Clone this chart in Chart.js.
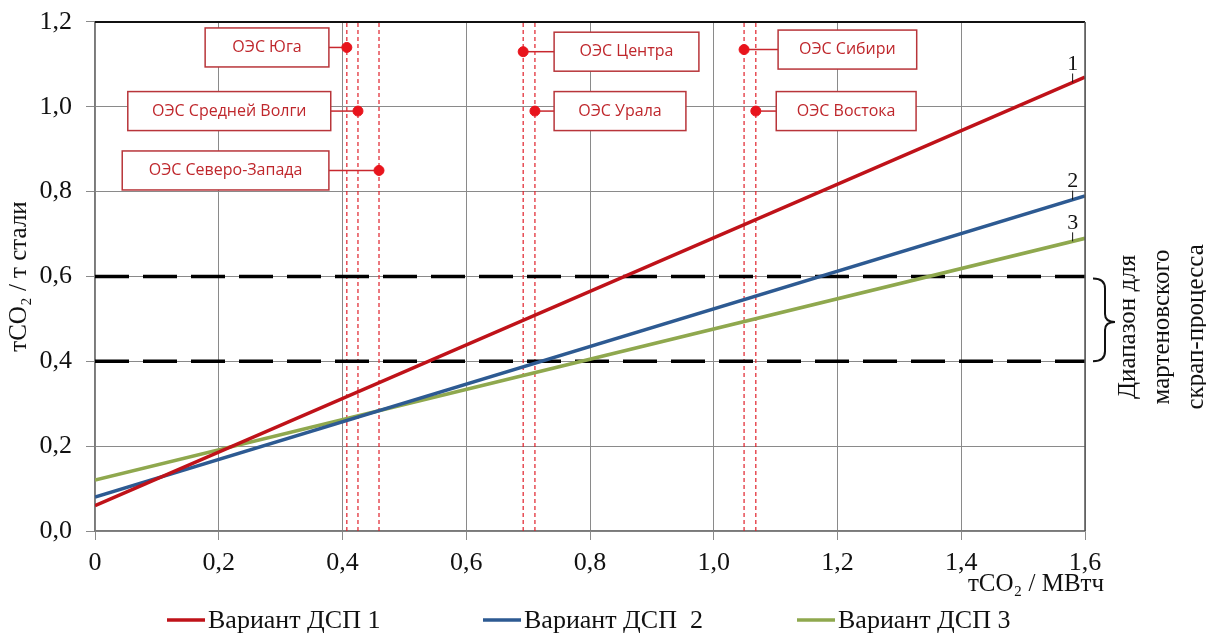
<!DOCTYPE html>
<html>
<head>
<meta charset="utf-8">
<script src="https://cdn.jsdelivr.net/npm/chart.js@4.4.1/dist/chart.umd.min.js"></script>
<style>
  html, body { margin: 0; padding: 0; background: #fff; }
  #wrap { width: 1206px; height: 635px; }
</style>
</head>
<body>
<div id="wrap"><canvas id="graphique" width="1206" height="635"></canvas></div>
<script>
// --- données ---
const seriesNames = ["Вариант ДСП 1", "Вариант ДСП  2", "Вариант ДСП 3"];
const seriesTags = ["1", "2", "3"];
const seriesX = [0, 1.6];
const seriesY = [
  [0.06, 1.07],
  [0.08, 0.79],
  [0.12, 0.69],
];
const rangeLimits = [0.4, 0.6];
const regionNames = ["ОЭС Юга", "ОЭС Средней Волги", "ОЭС Северо-Запада", "ОЭС Центра", "ОЭС Урала", "ОЭС Сибири", "ОЭС Востока"];
const regionX = [0.407, 0.425, 0.459, 0.692, 0.711, 1.049, 1.068];
const regionY = [1.14, 0.99, 0.85, 1.13, 0.99, 1.135, 0.99];
const xTickLabels = ["0", "0,2", "0,4", "0,6", "0,8", "1,0", "1,2", "1,4", "1,6"];
const yTickLabels = ["0,0", "0,2", "0,4", "0,6", "0,8", "1,0", "1,2"];

// --- mise en page des étiquettes (unités de l'axe x) ---
const boxSpans = [[0.178, 0.378], [0.053, 0.381], [0.044, 0.378], [0.742, 0.976], [0.742, 0.955], [1.104, 1.328], [1.101, 1.327]];
const lineColors = ["#bf1219", "#2d5a92", "#8fa84e"];
const legendX = [167, 483, 797];

const serif = "'Liberation Serif', 'Times New Roman', serif";
Chart.defaults.font.family = serif;
Chart.defaults.color = "#111";

const datasets = [];
seriesNames.forEach((nom, i) => {
  datasets.push({
    label: nom,
    data: seriesX.map((x, k) => ({ x: x, y: seriesY[i][k] })),
    showLine: true,
    borderColor: lineColors[i],
    borderWidth: 3.5,
    pointRadius: 0,
    order: 1,
  });
});
rangeLimits.forEach((lim) => {
  datasets.push({
    label: "",
    data: seriesX.map((x) => ({ x: x, y: lim })),
    showLine: true,
    borderColor: "#000",
    borderWidth: 3.5,
    borderDash: [34, 14],
    pointRadius: 0,
    order: 2,
  });
});
regionX.forEach((rx) => {
  datasets.push({
    label: "",
    data: [{ x: rx, y: 0 }, { x: rx, y: 1.2 }],
    showLine: true,
    borderColor: "#e0202a",
    borderWidth: 1.2,
    borderDash: [4, 3],
    pointRadius: 0,
    order: 3,
  });
});
datasets.push({
  label: "",
  data: regionX.map((x, i) => ({ x: x, y: regionY[i] })),
  showLine: false,
  backgroundColor: "#e8141c",
  borderColor: "#e8141c",
  pointRadius: 5,
  order: 0,
});

const decorations = {
  id: "decorations",
  beforeDatasetsDraw(chart) {
    const { ctx } = chart;
    const xs = chart.scales.x, ys = chart.scales.y;
    ctx.save();
    ctx.font = "16px 'Open Sans', 'Noto Sans', sans-serif";
    ctx.textBaseline = "middle";
    ctx.textAlign = "center";
    regionNames.forEach((nom, i) => {
      const px = xs.getPixelForValue(regionX[i]);
      const py = ys.getPixelForValue(regionY[i]);
      const l = xs.getPixelForValue(boxSpans[i][0]);
      const r = xs.getPixelForValue(boxSpans[i][1]);
      // connecteur
      ctx.strokeStyle = "#c8282e";
      ctx.lineWidth = 1.5;
      ctx.beginPath();
      const edge = px > r ? r : l;
      ctx.moveTo(edge, py);
      ctx.lineTo(px, py);
      ctx.stroke();
      // boîte
      ctx.fillStyle = "#fff";
      ctx.fillRect(l, py - 19.5, r - l, 39);
      ctx.strokeStyle = "#b8353a";
      ctx.strokeRect(l, py - 19.5, r - l, 39);
      ctx.fillStyle = "#bf272c";
      ctx.fillText(nom, (l + r) / 2, py);
    });
    ctx.restore();
  },
  afterDatasetsDraw(chart) {
    const { ctx, chartArea: a } = chart;
    const xs = chart.scales.x, ys = chart.scales.y;
    ctx.save();
    // cadre
    ctx.strokeStyle = "#111";
    ctx.lineWidth = 2;
    ctx.beginPath();
    ctx.moveTo(a.left, a.top);
    ctx.lineTo(a.right, a.top);
    ctx.stroke();
    ctx.strokeStyle = "#555";
    ctx.lineWidth = 1.5;
    ctx.beginPath();
    ctx.moveTo(a.right, a.top);
    ctx.lineTo(a.right, a.bottom);
    ctx.stroke();

    // numéros des courbes
    ctx.font = "22px " + serif;
    ctx.fillStyle = "#111";
    ctx.strokeStyle = "#111";
    ctx.lineWidth = 1;
    ctx.textAlign = "center";
    ctx.textBaseline = "bottom";
    seriesTags.forEach((t, i) => {
      const xv = 1.58;
      const yv = seriesY[i][0] + (seriesY[i][1] - seriesY[i][0]) * (xv - seriesX[0]) / (seriesX[1] - seriesX[0]);
      const px = xs.getPixelForValue(xv), py = ys.getPixelForValue(yv);
      ctx.beginPath();
      ctx.moveTo(px, py);
      ctx.lineTo(px, py - 9);
      ctx.stroke();
      ctx.fillText(t, px, py - 7);
    });

    // accolade
    const yTop = ys.getPixelForValue(rangeLimits[1]);
    const yBot = ys.getPixelForValue(rangeLimits[0]);
    const mid = (yTop + yBot) / 2 + 3;
    const bx = a.right + 8, vx = a.right + 20, tip = a.right + 30;
    ctx.lineWidth = 2;
    ctx.beginPath();
    ctx.moveTo(bx, yTop + 2);
    ctx.quadraticCurveTo(vx, yTop + 2, vx, yTop + 12);
    ctx.lineTo(vx, mid - 8);
    ctx.quadraticCurveTo(vx, mid, tip, mid);
    ctx.quadraticCurveTo(vx, mid, vx, mid + 8);
    ctx.lineTo(vx, yBot - 10);
    ctx.quadraticCurveTo(vx, yBot, bx, yBot);
    ctx.stroke();

    ctx.font = "25px " + serif;
    ctx.textAlign = "center";
    ctx.textBaseline = "middle";
    ["Диапазон для", "мартеновского", "скрап-процесса"].forEach((ligne, k) => {
      ctx.save();
      ctx.translate(a.right + 43 + k * 34, mid + 5);
      ctx.rotate(-Math.PI / 2);
      ctx.fillText(ligne, 0, 0);
      ctx.restore();
    });

    // titre de l'axe x
    ctx.font = "25px " + serif;
    ctx.textAlign = "center";
    ctx.textBaseline = "middle";
    ctx.fillText("тCO₂ / МВтч", a.right - 49, a.bottom + 53);

    // légende
    ctx.font = "26px " + serif;
    ctx.textAlign = "left";
    seriesNames.forEach((nom, i) => {
      const lx = legendX[i], ly = 620;
      ctx.strokeStyle = lineColors[i];
      ctx.lineWidth = 3.5;
      ctx.beginPath();
      ctx.moveTo(lx, ly);
      ctx.lineTo(lx + 38, ly);
      ctx.stroke();
      ctx.fillStyle = "#111";
      ctx.fillText(nom, lx + 41, ly + 1);
    });
    ctx.restore();
  },
};

new Chart(document.querySelector("#graphique").getContext("2d"), {
  type: "scatter",
  data: { datasets: datasets },
  options: {
    responsive: false,
    animation: false,
    layout: { padding: { top: 22, right: 121, left: 0, bottom: 0 } },
    plugins: { legend: { display: false }, tooltip: { enabled: false } },
    scales: {
      x: {
        type: "linear",
        min: 0,
        max: 1.6,
        afterFit: (s) => { s.height = 104; s.paddingLeft = 0; s.paddingRight = 0; },
        afterBuildTicks: (s) => { s.ticks = xTickLabels.map((_, i) => ({ value: i * 0.2 })); },
        ticks: {
          callback: (v, i) => xTickLabels[i],
          font: { size: 26 },
          color: "#111",
          padding: 8,
          maxRotation: 0,
        },
        grid: { color: "#8a8a8a", lineWidth: 1, tickLength: 9 },
        border: { color: "#7a7a7a", width: 1.5 },
      },
      y: {
        min: 0,
        max: 1.2,
        afterFit: (s) => { s.width = 95; s.paddingTop = 0; s.paddingBottom = 0; },
        afterBuildTicks: (s) => { s.ticks = yTickLabels.map((_, i) => ({ value: i * 0.2 })); },
        ticks: {
          callback: (v, i) => yTickLabels[i],
          font: { size: 26 },
          color: "#111",
          padding: 14,
        },
        grid: { color: "#8a8a8a", lineWidth: 1, tickLength: 9 },
        border: { color: "#7a7a7a", width: 1.5 },
        title: {
          display: true,
          text: "тCO₂ / т стали",
          font: { size: 25 },
          color: "#111",
          padding: { top: 4, bottom: 0 },
        },
      },
    },
  },
  plugins: [decorations],
});
</script>
</body>
</html>
